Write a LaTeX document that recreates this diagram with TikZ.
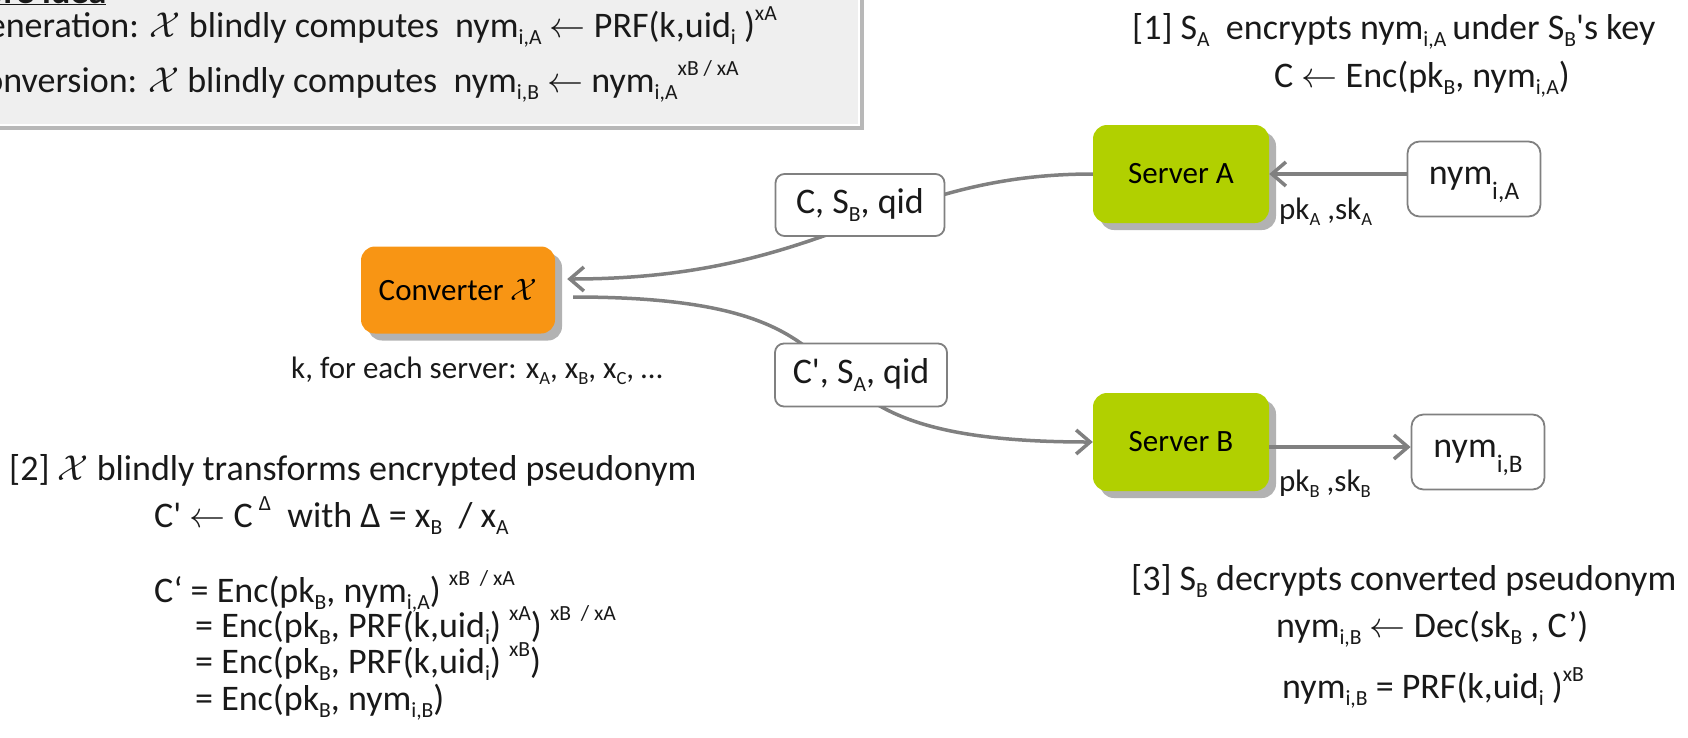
\RequirePackage{fix-cm}
\documentclass[tikz,border=0pt]{standalone}
\usepackage{fontspec}
\setmainfont{Carlito}
\usepackage{xcolor}
\usepackage{tikz}
\usetikzlibrary{positioning, arrows.meta, shadows}

\definecolor{srvgreen}{RGB}{177,208,0}
\definecolor{convorange}{RGB}{248,149,20}
\definecolor{flowgray}{RGB}{128,128,128}
\definecolor{ideagray}{RGB}{239,239,239}
\definecolor{ink}{RGB}{25,25,25}

\newcommand{\lo}[1]{\raisebox{-.22em}{\scalebox{.6}{#1}}}
\newcommand{\lolow}[1]{\smash{\raisebox{-.42em}{\scalebox{.7}{#1}}}}
\newcommand{\hi}[1]{\raisebox{.45em}{\scalebox{.6}{#1}}}
\newcommand{\calX}{$\mathcal{X}$}

\tikzset{
	big/.style={font=\fontsize{36}{40}\selectfont, text=ink, inner sep=0pt},
	small/.style={font=\fontsize{31}{35}\selectfont, text=ink, inner sep=0pt},
	server/.style={small, text=black, fill=srvgreen, rounded corners=14pt, minimum width=176pt, minimum height=98pt,
		drop shadow={shadow xshift=7pt, shadow yshift=-7pt, fill=black!30, opacity=1}},
	msgbox/.style={big, draw=flowgray, line width=1.8pt, fill=white, rounded corners=9pt},
	flow/.style={draw=flowgray, line width=3.5pt, -{Straight Barb[length=14pt, width=24pt]}},
}

\begin{document}
\begin{tikzpicture}[x=1pt, y=-1pt]
	\path[use as bounding box, clip] (0,0) rectangle (1688,737);

	% core idea box (cut by the page)
	\draw[draw=white, line width=2pt, fill=ideagray,
		drop shadow={shadow xshift=5pt, shadow yshift=-5pt, fill=black!28, opacity=1}] (-20,-20) rectangle (859,125);
	\node[big, anchor=base west] (ideaHead) at (-35,3) {\textbf{\underline{Core idea}}};
	\node[big, anchor=base west] (ideaGen) at (-35,37) {Generation: \calX{} blindly computes\ \ nym\lo{i,A} $\leftarrow$ PRF(k,uid\lo{i} )\hi{xA}};
	\node[big, anchor=base west] (ideaConv) at (-35,92) {Conversion: \calX{} blindly computes\ \ nym\lo{i,B} $\leftarrow$ nym\lo{i,A}\hi{xB / xA}};

	% servers and their keys
	\foreach \s/\yy in {A/174, B/442} {
		\node[server] (server\s) at (1181,\yy) {Server \s};
	}
	\foreach \s/\yy in {A/219, B/491} {
		\node[small, anchor=base west] (keys\s) at (1279,\yy) {pk\lo{\s} ,sk\lo{\s}};
	}

	% converter
	\node[server, fill=convorange, minimum width=194pt, minimum height=87pt] (conv) at (458,290) {Converter \calX};
	\node[small, anchor=base west] (convKeys) at (291,378) {k, for each server: x\lo{A}, x\lo{B}, x\lo{C}, …};

	% pseudonyms
	\node[msgbox, minimum width=133pt, minimum height=75pt, rounded corners=12pt] (nymA) at (1474,179) {nym\lolow{i,A}};
	\node[msgbox, minimum width=133pt, minimum height=75pt, rounded corners=12pt] (nymB) at (1478,452) {nym\lolow{i,B}};

	% flows
	\draw[flow] (nymA.west |- serverA.east) -- (serverA.east);
	\draw[flow] ([yshift=-5pt]serverB.east) -- ([yshift=-5pt]nymB.west |- serverB.east);
	\draw[flow] (serverA.west) to[out=180, in=0, in looseness=1.25] ([xshift=12pt, yshift=11pt]conv.east);
	\draw[flow] ([xshift=18pt, yshift=-7pt]conv.east) to[out=0, in=180, looseness=1.7] (serverB.west);

	% messages on the flows
	\node[msgbox, minimum width=169pt, minimum height=62pt] (msgC) at (860,205) {C, S\lo{B}, qid};
	\node[msgbox, minimum width=172pt, minimum height=63pt] (msgCp) at (861,375) {C\textquotesingle, S\lo{A}, qid};

	% step 1
	\node[big, anchor=base west] (stepOne) at (1132,39) {[1] S\lo{A}\ \ encrypts nym\lo{i,A}\,under S\lo{B}\textquotesingle s key};
	\node[big, anchor=base west] (stepOneEnc) at (1274,87) {C $\leftarrow$ Enc(pk\lo{B}, nym\lo{i,A})};

	% step 2
	\node[big, anchor=base west] (stepTwo) at (9,480) {[2] \calX{} blindly transforms encrypted pseudonym};
	\node[big, anchor=base west] (stepTwoRule) at (154,527) {C\textquotesingle{} $\leftarrow$ C\,\hi{Δ}\ \ with Δ = x\lo{B}\ \ / x\lo{A}};
	\node[big, anchor=base west] (eqA) at (154,602) {C‘ = Enc(pk\lo{B}, nym\lo{i,A})\ \hi{xB\ \ / xA}};
	\node[big, anchor=base west] (eqB) at (195,637) {= Enc(pk\lo{B}, PRF(k,uid\lo{i})\ \hi{xA})\ \hi{xB\ \ / xA}};
	\node[big, anchor=base west] (eqC) at (195,673) {= Enc(pk\lo{B}, PRF(k,uid\lo{i})\ \hi{xB})};
	\node[big, anchor=base west] (eqD) at (195,710) {= Enc(pk\lo{B}, nym\lo{i,B})};

	% step 3
	\node[big, anchor=base west] (stepThree) at (1131,590) {[3] S\lo{B} decrypts converted pseudonym};
	\node[big, anchor=base west] (stepThreeDec) at (1276,637) {nym\lo{i,B} $\leftarrow$ Dec(sk\lo{B} , C’)};
	\node[big, anchor=base west] (stepThreeEq) at (1282,698) {nym\lo{i,B} = PRF(k,uid\lo{i} )\hi{xB}};
\end{tikzpicture}
\end{document}
